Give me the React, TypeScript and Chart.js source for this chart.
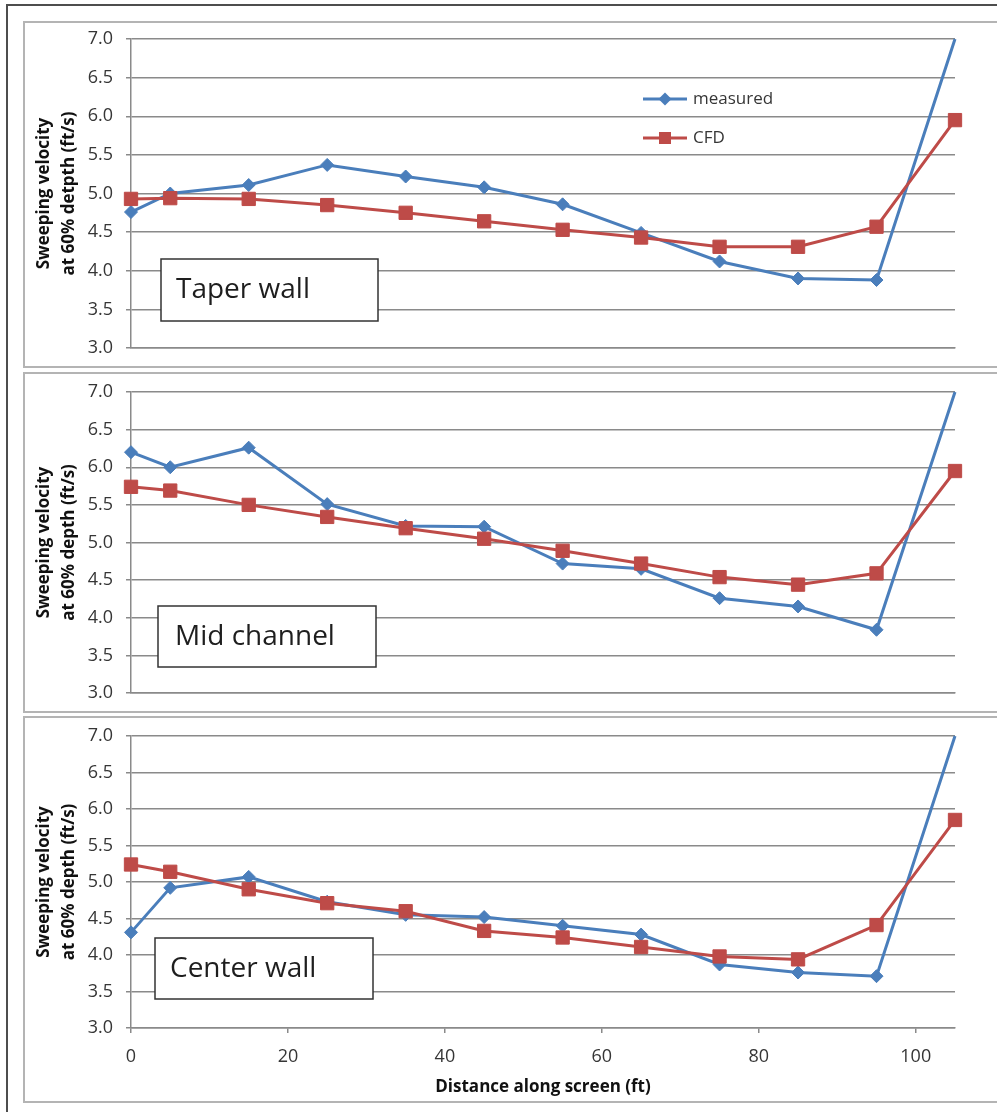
import { useEffect, useRef } from 'react';
import { Chart, registerables } from 'chart.js';

Chart.register(...registerables);

// Distance along the screen (ft) at which velocities were sampled
const DISTANCE = [0, 5, 15, 25, 35, 45, 55, 65, 75, 85, 95, 105];
const X_TICKS = [0, 20, 40, 60, 80, 100];
const Y_TICKS = [3.0, 3.5, 4.0, 4.5, 5.0, 5.5, 6.0, 6.5, 7.0];
const X_MIN = 0;
const X_MAX = 105;
const Y_MIN = 3;
const Y_MAX = 7;

// Sweeping velocity (ft/s) at 60% depth
const TAPER_MEASURED = [4.76, 5.0, 5.11, 5.37, 5.22, 5.08, 4.86, 4.49, 4.12, 3.9, 3.88, 7.0];
const TAPER_CFD = [4.93, 4.94, 4.93, 4.85, 4.75, 4.64, 4.53, 4.43, 4.31, 4.31, 4.57, 5.95];

const MID_MEASURED = [6.2, 6.0, 6.26, 5.51, 5.22, 5.21, 4.72, 4.65, 4.26, 4.15, 3.84, 7.0];
const MID_CFD = [5.74, 5.69, 5.5, 5.34, 5.19, 5.05, 4.89, 4.72, 4.54, 4.44, 4.59, 5.95];

const CENTER_MEASURED = [4.31, 4.92, 5.07, 4.73, 4.55, 4.52, 4.4, 4.28, 3.87, 3.76, 3.71, 7.0];
const CENTER_CFD = [5.24, 5.14, 4.9, 4.71, 4.6, 4.33, 4.24, 4.11, 3.98, 3.94, 4.41, 5.85];

const SERIES_NAMES = ['measured', 'CFD'];
const Y_TITLE_LINE1 = 'Sweeping velocity';
const X_TITLE = 'Distance along screen (ft)';

const BLUE = '#4A7EBB';
const RED = '#BE4B48';
const GRID = '#8a8a8a';
const TEXT = '#363636';
const FONT = '"Open Sans", "Noto Sans", sans-serif';

type PanelSpec = {
  name: string;
  yTitle2: string;
  measured: number[];
  cfd: number[];
  top: number;
  height: number;
  padTop: number;
  xAxisHeight: number;
  showXLabels: boolean;
  showKey: boolean;
  box: { dx: number; dy: number; w: number; h: number; pad: number };
};

const PANELS: PanelSpec[] = [
  {
    name: 'Taper wall',
    yTitle2: 'at 60% detpth (ft/s)',
    measured: TAPER_MEASURED,
    cfd: TAPER_CFD,
    top: 21,
    height: 347,
    padTop: 16,
    xAxisHeight: 18,
    showXLabels: false,
    showKey: true,
    box: { dx: 30, dy: 220, w: 217, h: 62, pad: 15 },
  },
  {
    name: 'Mid channel',
    yTitle2: 'at 60% depth (ft/s)',
    measured: MID_MEASURED,
    cfd: MID_CFD,
    top: 372,
    height: 341,
    padTop: 18,
    xAxisHeight: 18,
    showXLabels: false,
    showKey: false,
    box: { dx: 27, dy: 214, w: 218, h: 61, pad: 17 },
  },
  {
    name: 'Center wall',
    yTitle2: 'at 60% depth (ft/s)',
    measured: CENTER_MEASURED,
    cfd: CENTER_CFD,
    top: 716,
    height: 387,
    padTop: 18,
    xAxisHeight: 73,
    showXLabels: true,
    showKey: false,
    box: { dx: 24, dy: 202, w: 218, h: 61, pad: 15 },
  },
];

const CANVAS_WIDTH = 972;
const Y_AXIS_WIDTH = 106;
const PAD_RIGHT = 42;

function drawMarker(ctx: CanvasRenderingContext2D, kind: string, x: number, y: number, r: number, color: string) {
  ctx.fillStyle = color;
  ctx.beginPath();
  if (kind === 'rectRot') {
    ctx.moveTo(x - r, y);
    ctx.lineTo(x, y - r);
    ctx.lineTo(x + r, y);
    ctx.lineTo(x, y + r);
    ctx.closePath();
  } else {
    const s = r * Math.SQRT1_2;
    ctx.rect(x - s, y - s, 2 * s, 2 * s);
  }
  ctx.fill();
}

// Boxed caption naming the panel's location
const panelLabel = {
  id: 'panelLabel',
  afterDatasetsDraw(chart: any, _args: any, opts: any) {
    const { ctx, chartArea } = chart;
    const x = chartArea.left + opts.dx;
    const y = chartArea.top + opts.dy;
    ctx.save();
    ctx.fillStyle = '#ffffff';
    ctx.fillRect(x, y, opts.w, opts.h);
    ctx.strokeStyle = '#333333';
    ctx.lineWidth = 1.5;
    ctx.strokeRect(x, y, opts.w, opts.h);
    ctx.fillStyle = '#1e1e1e';
    ctx.font = `28px ${FONT}`;
    ctx.textBaseline = 'alphabetic';
    ctx.textAlign = 'left';
    ctx.fillText(opts.text, x + opts.pad, y + 39);
    ctx.restore();
  },
};

// Series key drawn inside the plot area of the first panel
const seriesKey = {
  id: 'seriesKey',
  afterDatasetsDraw(chart: any, _args: any, opts: any) {
    if (!opts.show) return;
    const { ctx, chartArea } = chart;
    const x0 = chartArea.left + 512;
    const x1 = chartArea.left + 556;
    const rows = [chartArea.top + 60, chartArea.top + 99];
    ctx.save();
    chart.data.datasets.forEach((ds: any, i: number) => {
      const y = rows[i];
      ctx.strokeStyle = ds.borderColor;
      ctx.lineWidth = 3;
      ctx.beginPath();
      ctx.moveTo(x0, y);
      ctx.lineTo(x1, y);
      ctx.stroke();
      drawMarker(ctx, ds.pointStyle, (x0 + x1) / 2, y, ds.keyRadius, ds.borderColor);
      ctx.fillStyle = TEXT;
      ctx.font = `17px ${FONT}`;
      ctx.textBaseline = 'middle';
      ctx.textAlign = 'left';
      ctx.fillText(ds.label, x1 + 6, y);
    });
    ctx.restore();
  },
};

function buildConfig(spec: PanelSpec): any {
  const points = (vals: number[]) => DISTANCE.map((x, i) => ({ x, y: vals[i] }));
  return {
    type: 'line',
    data: {
      datasets: [
        {
          label: SERIES_NAMES[0],
          data: points(spec.measured),
          borderColor: BLUE,
          backgroundColor: BLUE,
          pointBackgroundColor: BLUE,
          pointBorderColor: BLUE,
          borderWidth: 3,
          pointStyle: 'rectRot',
          // the marker sitting on the top edge of the axis is not shown
          pointRadius: (c: any) => (c.parsed && c.parsed.y >= Y_MAX ? 0 : 6.5),
          keyRadius: 6.5,
          pointBorderWidth: 1,
          tension: 0,
          clip: false,
          order: 2,
        },
        {
          label: SERIES_NAMES[1],
          data: points(spec.cfd),
          borderColor: RED,
          backgroundColor: RED,
          pointBackgroundColor: RED,
          pointBorderColor: RED,
          borderWidth: 3,
          pointStyle: 'rect',
          pointRadius: 9.4,
          keyRadius: 8.5,
          pointBorderWidth: 1,
          tension: 0,
          clip: false,
          order: 1,
        },
      ],
    },
    options: {
      responsive: false,
      animation: false,
      events: [],
      layout: { padding: { top: spec.padTop, right: PAD_RIGHT, left: 0, bottom: 0 } },
      plugins: {
        legend: { display: false },
        tooltip: { enabled: false },
        panelLabel: { text: spec.name, ...spec.box },
        seriesKey: { show: spec.showKey },
      },
      scales: {
        x: {
          type: 'linear',
          min: X_MIN,
          max: X_MAX,
          afterFit: (s: any) => {
            s.height = spec.xAxisHeight;
            s.paddingLeft = 0;
            s.paddingRight = 0;
          },
          afterBuildTicks: (s: any) => {
            s.ticks = X_TICKS.map((v) => ({ value: v }));
          },
          grid: {
            display: spec.showXLabels,
            drawOnChartArea: false,
            drawTicks: true,
            tickLength: 5,
            color: GRID,
            lineWidth: 1.5,
          },
          border: { display: true, color: GRID, width: 1.5 },
          ticks: {
            display: spec.showXLabels,
            padding: 13,
            color: TEXT,
            font: { family: FONT, size: 18 },
            maxRotation: 0,
          },
          title: {
            display: spec.showXLabels,
            text: X_TITLE,
            color: '#111111',
            font: { family: FONT, size: 17, weight: 'bold' },
            padding: { top: 0, bottom: 4 },
          },
        },
        y: {
          type: 'linear',
          min: Y_MIN,
          max: Y_MAX,
          afterFit: (s: any) => {
            s.width = Y_AXIS_WIDTH;
            s.paddingTop = 0;
            s.paddingBottom = 0;
          },
          afterBuildTicks: (s: any) => {
            s.ticks = Y_TICKS.map((v) => ({ value: v }));
          },
          grid: {
            color: GRID,
            lineWidth: 1.5,
            drawTicks: true,
            tickLength: 5,
          },
          border: { display: true, color: GRID, width: 1.5 },
          ticks: {
            padding: 13,
            color: TEXT,
            font: { family: FONT, size: 18 },
            callback: (v: any) => Number(v).toFixed(1),
          },
          title: {
            display: true,
            text: [Y_TITLE_LINE1, spec.yTitle2],
            color: '#111111',
            font: { family: FONT, size: 17, weight: 'bold', lineHeight: '25px' },
            padding: { top: 7, bottom: 0 },
          },
        },
      },
    },
    plugins: [panelLabel, seriesKey],
  };
}

function Panel({ spec }: { spec: PanelSpec }) {
  const ref = useRef<HTMLCanvasElement>(null);
  useEffect(() => {
    if (!ref.current) return;
    const chart = new Chart(ref.current, buildConfig(spec));
    return () => chart.destroy();
  }, [spec]);
  const inner = spec.height - 4;
  return (
    <div
      style={{
        position: 'absolute',
        left: 23,
        top: spec.top,
        width: 1000,
        height: inner,
        border: '2px solid #b4b4b4',
        background: '#ffffff',
      }}
    >
      <canvas ref={ref} width={CANVAS_WIDTH} height={inner} style={{ display: 'block' }} />
    </div>
  );
}

export default function App() {
  return (
    <div
      style={{
        position: 'absolute',
        left: 0,
        top: 0,
        width: 997,
        height: 1112,
        overflow: 'hidden',
        background: '#ffffff',
      }}
    >
      <div
        style={{
          position: 'absolute',
          left: 6,
          top: 4,
          width: 1100,
          height: 1200,
          border: '2px solid #4d4d4d',
        }}
      />
      {PANELS.map((p) => (
        <Panel key={p.name} spec={p} />
      ))}
    </div>
  );
}
